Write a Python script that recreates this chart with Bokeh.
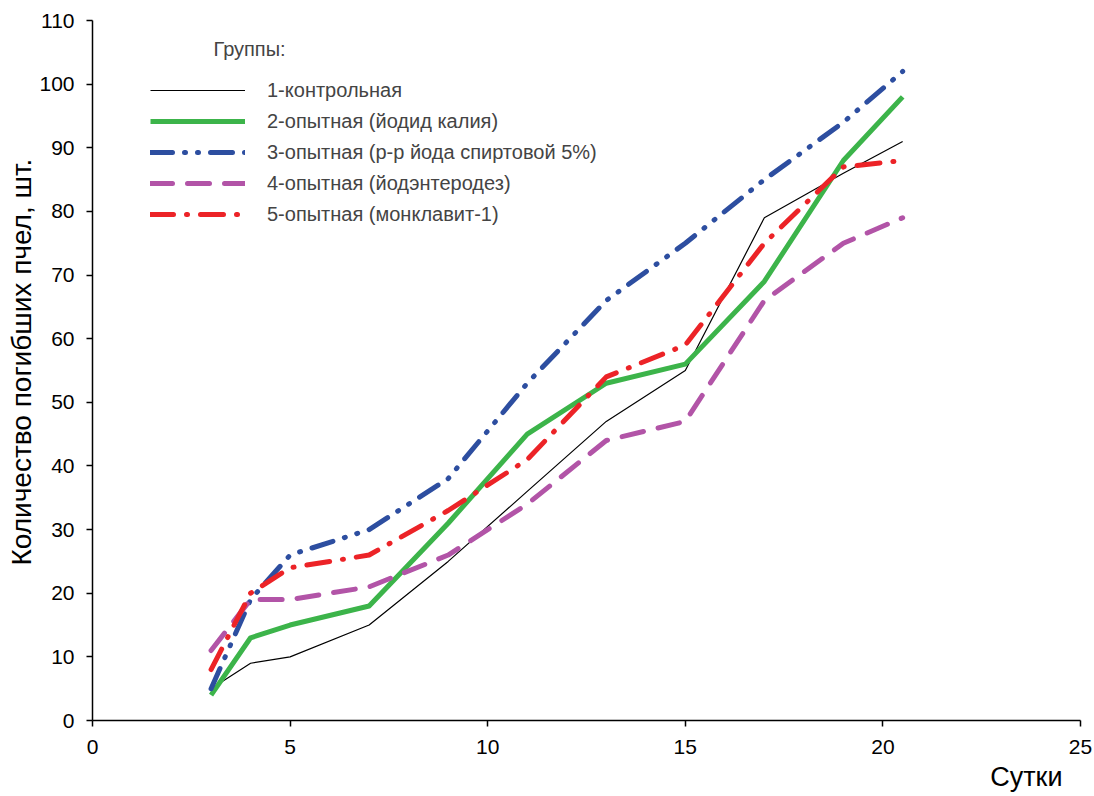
import math
from bokeh.plotting import figure
from bokeh.models import Legend, LegendItem, Label, Range1d, FixedTicker, Title
from bokeh.embed import file_html
from bokeh.resources import INLINE

days = [3, 4, 5, 7, 9, 11, 13, 15, 17, 19, 20.5]
group1 = [5, 9, 10, 15, 25, 36, 47, 55, 79, 86, 91]
group2 = [4, 13, 15, 18, 31, 45, 53, 56, 69, 88, 98]
group3 = [5, 19, 26, 30, 38, 53, 66, 75, 85, 94, 102]
group4 = [11, 19, 19, 21, 26, 34, 44, 47, 66, 75, 79]
group5 = [8, 20, 24, 26, 33, 41, 54, 59, 75, 87, 88]

names = ["1-контрольная", "2-опытная (йодид калия)", "3-опытная (р-р йода спиртовой 5%)",
         "4-опытная (йодэнтеродез)", "5-опытная (монклавит-1)"]
x_ticks = [0, 5, 10, 15, 20, 25]
y_ticks = list(range(0, 111, 10))

FONT = "Liberation Sans"

p = figure(width=1094, height=796, output_backend="svg", toolbar_location=None,
           x_range=Range1d(0, 25), y_range=Range1d(0, 110),
           min_border_left=92, min_border_right=14, min_border_top=20, min_border_bottom=76)
p.outline_line_color = None
p.xgrid.visible = False
p.ygrid.visible = False
p.background_fill_color = "white"
p.border_fill_color = "white"

for ax in (p.xaxis[0], p.yaxis[0]):
    ax.axis_line_color = "black"
    ax.axis_line_width = 1.5
    ax.major_tick_line_color = "black"
    ax.major_tick_line_width = 1.5
    ax.major_tick_in = 0
    ax.major_tick_out = 6
    ax.minor_tick_line_color = None
    ax.major_label_text_font = FONT
    ax.major_label_text_font_size = "21px"
    ax.major_label_text_color = "black"

p.xaxis[0].ticker = FixedTicker(ticks=x_ticks)
p.yaxis[0].ticker = FixedTicker(ticks=y_ticks)
p.xaxis[0].major_label_standoff = 13
p.yaxis[0].major_label_standoff = 12

styles = [
    dict(line_color="black", line_width=1.2),
    dict(line_color="#3cb44a", line_width=5),
    dict(line_color="#2d4ea0", line_width=5, line_dash="22 12 1 12 1 12", line_cap="round"),
    dict(line_color="#b254a7", line_width=5, line_dash="22 15", line_cap="round"),
    dict(line_color="#ec2327", line_width=5, line_dash="23 13 1 13", line_cap="round"),
]
series = [group1, group2, group3, group4, group5]
renderers = []
for ys, st in zip(series, styles):
    r = p.line(days, ys, line_join="round", **st)
    renderers.append(r)

legend = Legend(items=[LegendItem(label=n, renderers=[r]) for n, r in zip(names, renderers)],
                location="top_left", margin=58, padding=0,
                border_line_color=None, background_fill_alpha=0,
                glyph_width=95, glyph_height=24, label_height=24, spacing=7,
                label_standoff=22, label_text_font=FONT, label_text_font_size="20px")
p.add_layout(legend)

p.add_layout(Label(x=3.06, y=105.6, text="Группы:", text_font=FONT, text_font_size="20px",
                   text_align="left", text_baseline="middle"))

p.add_layout(Title(text="Количество погибших пчел, шт.", align="left", offset=155,
                   text_font=FONT, text_font_size="28px", text_font_style="normal",
                   text_color="black", standoff=0), "left")
p.add_layout(Title(text="Сутки", align="right", offset=18,
                   text_font=FONT, text_font_size="27px", text_font_style="normal",
                   text_line_height=0.9, text_color="black", standoff=6), "below")

open("out.html", "w").write(file_html(p, INLINE))
